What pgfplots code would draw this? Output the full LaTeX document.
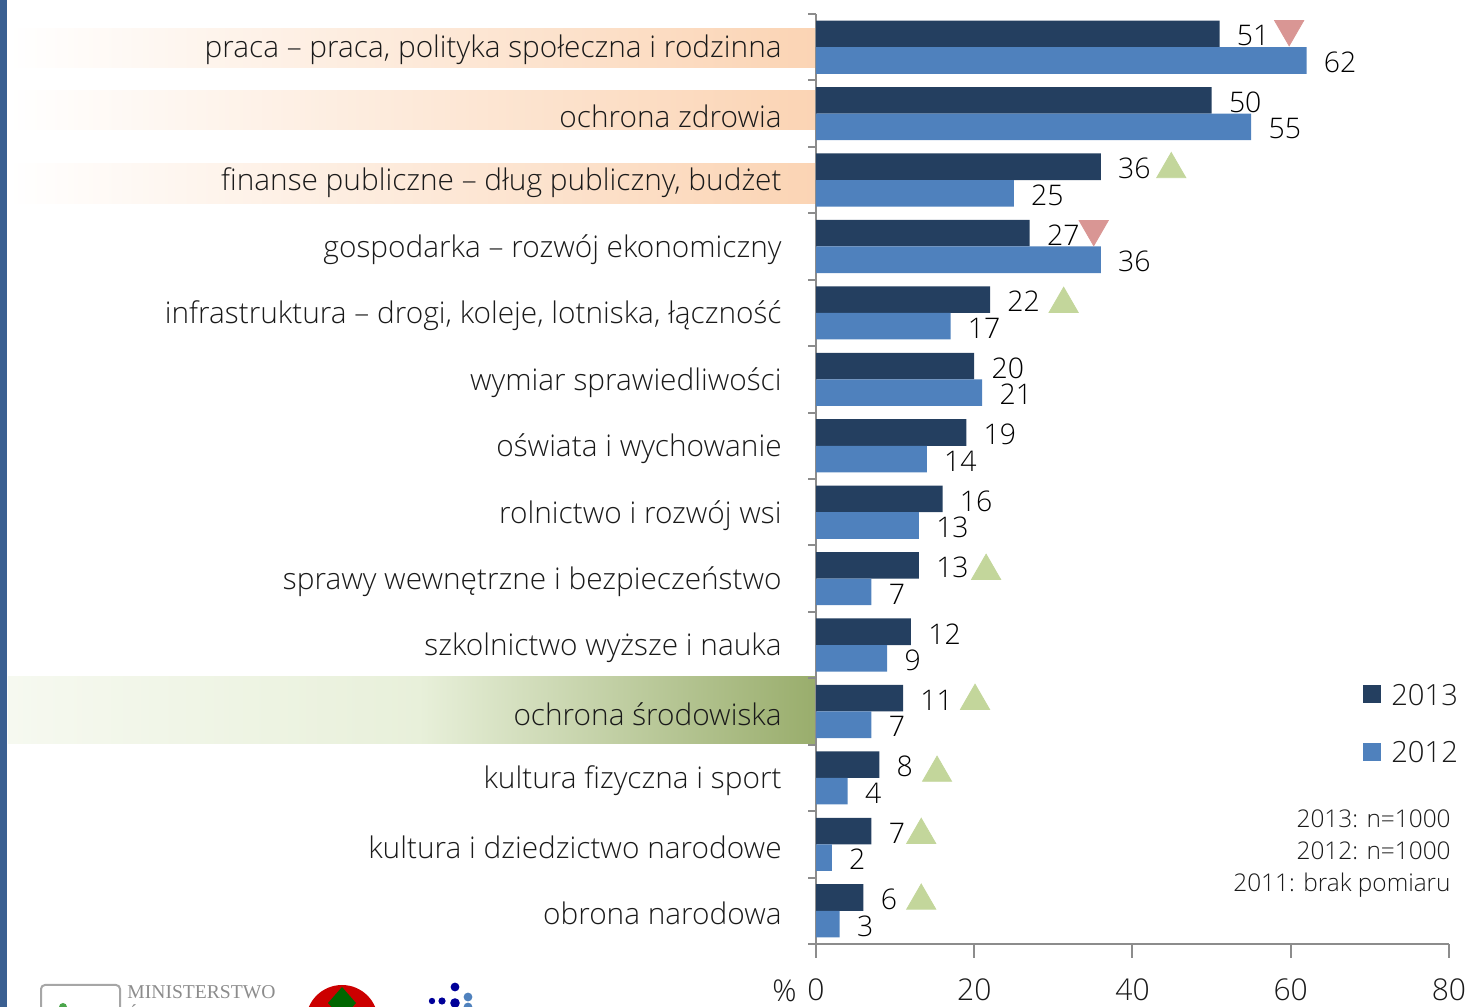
\documentclass[border=0pt]{standalone}
\usepackage{fontspec}
\IfFontExistsTF{Open Sans Light}{%
  \setmainfont{Open Sans Light}
  \def\fcat{\fontsize{14.9}{18}\selectfont}
  \def\fnum{\fontsize{14.2}{17}\selectfont}
  \def\ftick{\fontsize{15}{18}\selectfont}
  \def\fleg{\fontsize{14.6}{18}\selectfont}
  \def\fnote{\fontsize{12.2}{15}\selectfont}
}{%
  \setmainfont{Carlito}
  \def\fcat{\fontsize{16.5}{19}\selectfont}
  \def\fnum{\fontsize{16}{19}\selectfont}
  \def\ftick{\fontsize{17}{20}\selectfont}
  \def\fleg{\fontsize{16.5}{19}\selectfont}
  \def\fnote{\fontsize{13.5}{16}\selectfont}
}
\usepackage{pgfplots}
\pgfplotsset{compat=1.18}
\definecolor{c13}{HTML}{243F60}
\definecolor{c12}{HTML}{4F81BD}
\definecolor{trigreen}{HTML}{C3D69B}
\definecolor{trired}{HTML}{D99694}
\definecolor{peach}{HTML}{FBD4B4}
\definecolor{gl1}{HTML}{F6F9F0}
\definecolor{gl2}{HTML}{E8F0DA}
\definecolor{gl3}{HTML}{99AD6C}
\definecolor{axisgray}{HTML}{8C8C8C}
\definecolor{stripe}{HTML}{3A5F91}
\definecolor{txt}{HTML}{1A1A1A}
\pgfplotsset{sqlegend/.style={legend image code/.code={\fill[##1] (0pt,-3.4pt) rectangle (9pt,5.6pt); \path (14pt,0pt);}}}
\begin{document}
\begin{tikzpicture}
\path[use as bounding box] (0pt,0pt) rectangle (734pt,503.5pt);
% left stripe
\fill[stripe] (0pt,-5pt) rectangle (3.5pt,510pt);
% highlighted category bands
\shade[left color=white, right color=peach] (4pt,469.5pt) rectangle (408pt,489pt);
\shade[left color=white, right color=peach] (4pt,438.5pt) rectangle (408pt,458pt);
\shade[left color=white, right color=peach] (4pt,401.5pt) rectangle (408pt,421.5pt);
\shade[left color=gl1, right color=gl2] (4pt,131.5pt) rectangle (210pt,165pt);
\shade[left color=gl2, right color=gl3] (209.5pt,131.5pt) rectangle (408pt,165pt);
% logos (decorative, cropped at bottom)
\draw[gray!70, line width=1pt, rounded corners=2pt] (20.5pt,-8pt) rectangle (60pt,11pt);
\fill[green!50!black!70] (31.5pt,0pt) circle (2pt);
\node[anchor=north west, inner sep=0pt, text=gray!90, font=\fontspec{Liberation Serif}\fontsize{9.8}{12}\selectfont] at (63.5pt,11pt) {MINISTERSTWO};
\node[anchor=north west, inner sep=0pt, text=gray!90, font=\fontspec{Liberation Serif}\fontsize{9.8}{12}\selectfont] at (63.5pt,1.5pt) {ŚRODOWISKA};
\fill[red!80!black] (171pt,-7pt) circle (18pt);
\fill[green!40!black] (171pt,10pt) -- (178pt,2pt) -- (171pt,-6pt) -- (164pt,2pt) -- cycle;
\fill[blue!60!black] (227.5pt,10pt) circle (2.2pt);
\fill[blue!60!black] (216pt,3pt) circle (1.6pt);
\fill[blue!60!black] (221pt,3pt) circle (1.8pt);
\fill[blue!60!black] (227.5pt,2pt) circle (2.4pt);
\fill[c12] (234pt,5pt) circle (2.2pt);
\fill[c12] (234pt,0pt) circle (2.2pt);
\begin{axis}[
  at={(408pt,31.5pt)}, anchor=south west,
  scale only axis, width=316.5pt, height=465pt,
  xmin=0, xmax=80, ymin=0.5, ymax=14.5,
  clip=false,
  axis x line*=bottom, axis y line*=left,
  axis line style={draw=axisgray, line width=1pt},
  tick align=outside, major tick length=7pt,
  xtick={0,20,40,60,80},
  xtick style={draw=axisgray, line width=1pt},
  ytick={1,...,14},
  ytick style={draw=none},
  yticklabels={obrona narodowa, kultura i dziedzictwo narodowe, kultura fizyczna i sport, ochrona środowiska, szkolnictwo wyższe i nauka, sprawy wewnętrzne i bezpieczeństwo, rolnictwo i rozwój wsi, oświata i wychowanie, wymiar sprawiedliwości, {infrastruktura – drogi, koleje, lotniska, łączność}, gospodarka – rozwój ekonomiczny, {finanse publiczne – dług publiczny, budżet}, ochrona zdrowia, {praca – praca, polityka społeczna i rodzinna}},
  /pgf/number format/assume math mode=true,
  xticklabel style={font=\ftick, inner sep=0pt, yshift=-10pt, text=txt},
  yticklabel style={font=\fcat, inner sep=0pt, xshift=-10pt, yshift=-1.5pt, text=txt},
  bar width=0.4,
  legend style={at={(0.864,0.2795)}, anchor=north west, draw=none, fill=none, inner sep=0pt,
    font=\fleg, row sep=16.5pt,
    nodes={inner sep=0pt, text=txt}},
  legend cell align=left,
]
\addplot[xbar, bar shift=0pt, fill=c13, draw=none, sqlegend,
  nodes near coords, every node near coord/.append style={anchor=west, inner sep=0pt, xshift=8.5pt, yshift=-1pt, text=black, font=\fnum}]
  coordinates {(51,14.2) (50,13.2) (36,12.2) (27,11.2) (22,10.2) (20,9.2) (19,8.2) (16,7.2) (13,6.2) (12,5.2) (11,4.2) (8,3.2) (7,2.2) (6,1.2)};
\addlegendentry{2013}
\addplot[xbar, bar shift=0pt, fill=c12, draw=none, sqlegend,
  nodes near coords, every node near coord/.append style={anchor=west, inner sep=0pt, xshift=8.5pt, yshift=-1pt, text=black, font=\fnum}]
  coordinates {(62,13.8) (55,12.8) (25,11.8) (36,10.8) (17,9.8) (21,8.8) (14,7.8) (13,6.8) (7,5.8) (9,4.8) (7,3.8) (4,2.8) (2,1.8) (3,0.8)};
\addlegendentry{2012}
\addplot[forget plot, only marks, mark=triangle*, mark size=8.4pt, color=trired, mark options={rotate=180, draw=none, fill=trired}]
  coordinates {(59.8,14.274) (35.1,11.264)};
\addplot[forget plot, only marks, mark=triangle*, mark size=8.4pt, color=trigreen, mark options={draw=none, fill=trigreen}]
  coordinates {(44.9,12.162) (31.3,10.134) (21.5,6.115) (20.1,4.158) (15.3,3.075) (13.3,2.14) (13.3,1.15)};
\pgfplotsinvokeforeach{0.5,1.5,2.5,3.5,4.5,5.5,6.5,7.5,8.5,9.5,10.5,11.5,12.5,13.5,14.5}{
  \draw[axisgray, line width=1pt] (axis cs:0,#1) -- ++(-4pt,0pt);
}
\end{axis}
\node[anchor=base east, inner sep=0pt, text=txt, font=\ftick] at (398.5pt,2.5pt) {\%};
\node[anchor=base east, inner sep=0pt, text=txt, font=\fnote] at (725.5pt,89.5pt) {2013: n=1000};
\node[anchor=base east, inner sep=0pt, text=txt, font=\fnote] at (725.5pt,73.5pt) {2012: n=1000};
\node[anchor=base east, inner sep=0pt, text=txt, font=\fnote] at (725.5pt,57.5pt) {2011: brak pomiaru};
\end{tikzpicture}
\end{document}
